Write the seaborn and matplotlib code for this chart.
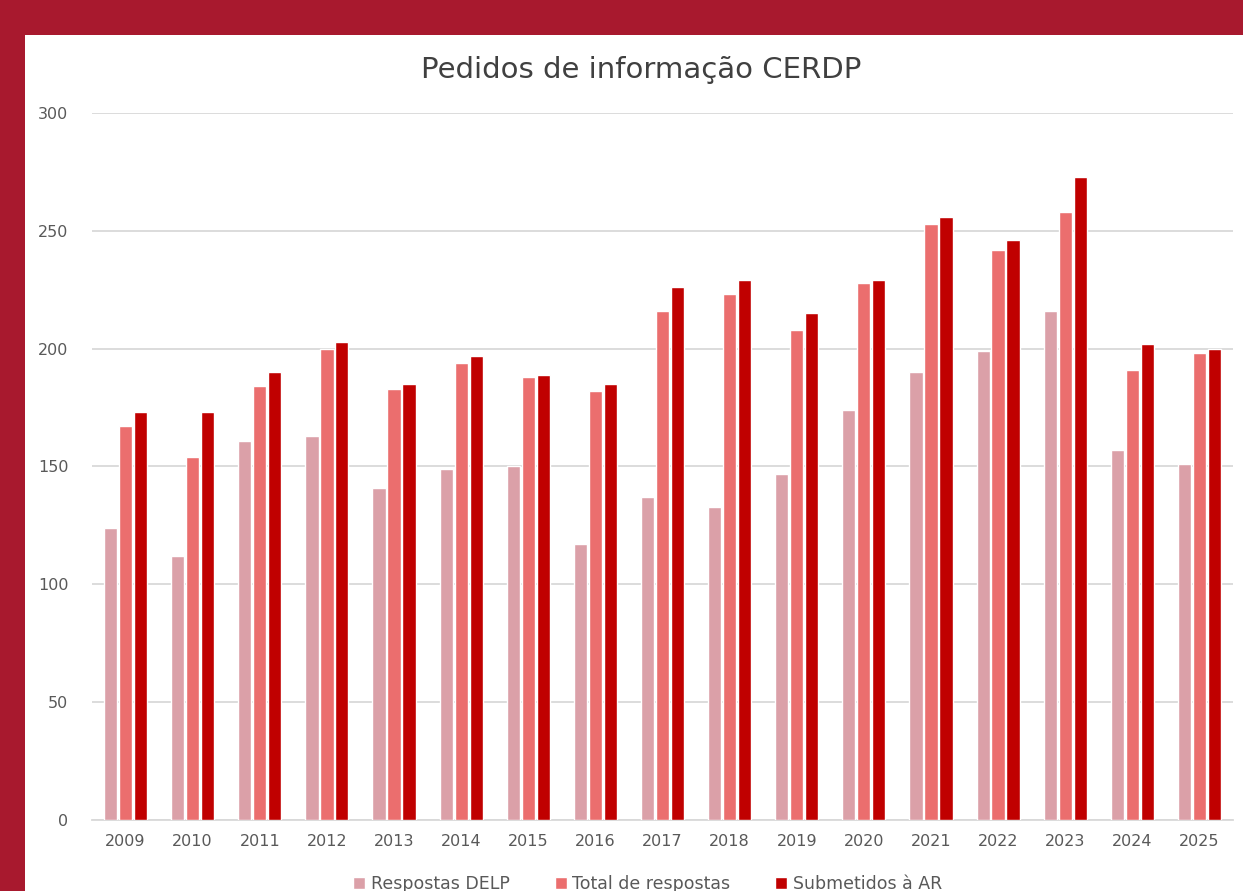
import pandas as pd
import matplotlib.pyplot as plt
import seaborn as sns
from matplotlib.patches import Rectangle

# Data
anos = ['2009', '2010', '2011', '2012', '2013', '2014', '2015', '2016', '2017',
        '2018', '2019', '2020', '2021', '2022', '2023', '2024', '2025']
respostas_delp = [124, 112, 161, 163, 141, 149, 150, 117, 137, 133, 147, 174, 190, 199, 216, 157, 151]
total_respostas = [167, 154, 184, 200, 183, 194, 188, 182, 216, 223, 208, 228, 253, 242, 258, 191, 198]
submetidos_ar = [173, 173, 190, 203, 185, 197, 189, 185, 226, 229, 215, 229, 256, 246, 273, 202, 200]
series = ['Respostas DELP', 'Total de respostas', 'Submetidos à AR']
cores = ['#DBA0A8', '#EB6E6E', '#C00000']

df = pd.DataFrame({'ano': anos, series[0]: respostas_delp,
                   series[1]: total_respostas, series[2]: submetidos_ar})
df = df.melt(id_vars='ano', var_name='serie', value_name='valor')

sns.set_style('white')
plt.rcParams['font.family'] = ['DejaVu Sans']

fig = plt.figure(figsize=(12.43, 8.91), dpi=100, facecolor='#A8192E')
fig.patches.append(Rectangle((25 / 1243, 0), 1, 1 - 35 / 891, transform=fig.transFigure,
                             facecolor='white', edgecolor='none', zorder=-10))
ax = fig.add_axes([92 / 1243, 1 - 820 / 891, (1233 - 92) / 1243, (820 - 113) / 891])
ax.set_zorder(1)
ax.set_facecolor('none')

sns.barplot(data=df, x='ano', y='valor', hue='serie', palette=cores, width=0.67,
            gap=0.12, ax=ax, legend=True, zorder=3, saturation=1)

ax.set_ylim(0, 300)
ax.set_xlim(-0.5, 16.5)
ax.set_yticks(range(0, 301, 50))
ax.yaxis.grid(True, color='#D9D9D9', linewidth=1.3, zorder=0)
ax.set_axisbelow(True)
for s in ['top', 'right', 'left']:
    ax.spines[s].set_visible(False)
ax.spines['bottom'].set_color('#D9D9D9')
ax.spines['bottom'].set_linewidth(1.3)
ax.tick_params(axis='both', length=0, labelsize=11.5, labelcolor='#595959')
ax.tick_params(axis='y', pad=17)
ax.tick_params(axis='x', pad=10)
ax.set(xlabel='', ylabel='')

fig.text(0.516, 1 - 70 / 891, 'Pedidos de informação CERDP', ha='center', va='center',
         fontsize=21, color='#404040')

ax.get_legend().remove()
handles, labels = ax.get_legend_handles_labels()
fig.legend(handles, labels, loc='center', bbox_to_anchor=(0.521, 1 - 884 / 891), ncol=3,
           frameon=False, fontsize=12.5, labelcolor='#595959', handlelength=0.7,
           handleheight=0.7, handletextpad=0.3, columnspacing=2.6)

fig.savefig('out.png', dpi=100, facecolor=fig.get_facecolor())
